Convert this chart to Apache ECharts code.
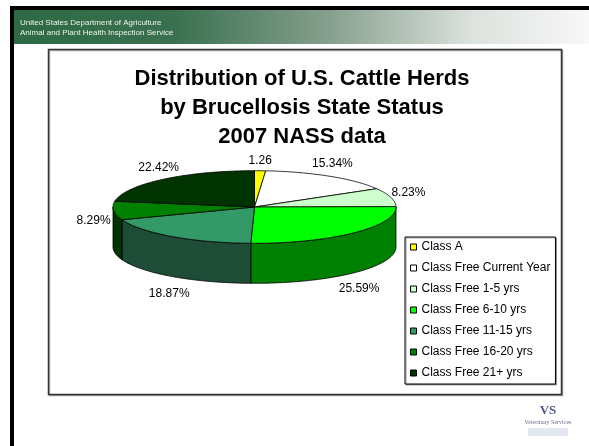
<!DOCTYPE html>
<html><head><meta charset="utf-8">
<script src="https://cdn.jsdelivr.net/npm/echarts@6/dist/echarts.min.js"></script>
<style>html,body{margin:0;padding:0;background:#fff}#c{width:589px;height:446px}</style>
</head><body><div id="c"></div>
<script>
// ---- data ----
const categories = ['Class A','Class Free Current Year','Class Free 1-5 yrs','Class Free 6-10 yrs','Class Free 11-15 yrs','Class Free 16-20 yrs','Class Free 21+ yrs'];
const values = [1.26, 15.34, 8.23, 25.59, 18.87, 8.29, 22.42];
const valueLabels = ['1.26','15.34%','8.23%','25.59%','18.87%','8.29%','22.42%'];
const titleLines = ['Distribution of U.S. Cattle Herds','by Brucellosis State Status','2007 NASS data'];
const headerLines = ['United States Department of Agriculture','Animal and Plant Health Inspection Service'];

// ---- styles ----
const topColors = ['#FFFF00','#FFFFFF','#CCFFCC','#00FF00','#339966','#008000','#003300'];
const sideColors = ['#999900','#999999','#88BB88','#008000','#1E4D37','#003300','#001A00'];
const FONT = '"Liberation Sans", Arial, sans-serif';
const PIE = {cx: 254.5, cy: 207, rx: 141.5, ry: 36.3, depth: 40};

const total = values.reduce((a, b) => a + b, 0);
function startAngle(i) { let s = 0; for (let k = 0; k < i; k++) s += values[k]; return s / total * 360; }
function pt(deg, dy) { const r = deg * Math.PI / 180; return [PIE.cx + PIE.rx * Math.sin(r), PIE.cy - PIE.ry * Math.cos(r) + (dy || 0)]; }
function arc(a, b, dy) { const pts = []; const n = Math.max(2, Math.ceil(Math.abs(b - a))); for (let j = 0; j <= n; j++) pts.push(pt(a + (b - a) * j / n, dy)); return pts; }

function renderSide(params, api) {
  const i = api.value(1);
  const a = startAngle(i), b = a + api.value(0) / total * 360;
  const lo = Math.max(a, 90), hi = Math.min(b, 270);
  if (hi <= lo) return {type: 'group', children: []};
  const pts = arc(lo, hi, 0).concat(arc(hi, lo, PIE.depth));
  return {type: 'polygon', shape: {points: pts}, style: {fill: sideColors[i], stroke: '#000', lineWidth: 0.8}};
}
function renderTop(params, api) {
  const i = api.value(1);
  const a = startAngle(i), b = a + api.value(0) / total * 360;
  const pts = [[PIE.cx, PIE.cy]].concat(arc(a, b, 0));
  const mid = (a + b) / 2, r = mid * Math.PI / 180, s = Math.sin(r), c = Math.cos(r);
  const lx = PIE.cx + (145 + 17 * Math.pow(Math.abs(s), 4)) * s;
  const ly = PIE.cy - (PIE.ry + 16 - 6 * Math.pow(c, 8)) * c + (c < 0 ? (PIE.depth + 5) * Math.min(1, -c * 2) : 0);
  return {type: 'group', children: [
    {type: 'polygon', shape: {points: pts}, style: {fill: api.visual('color'), stroke: '#000', lineWidth: 0.8}},
    {type: 'text', x: lx, y: ly, style: {text: valueLabels[i], font: '12px ' + FONT, fill: '#000', align: 'center', verticalAlign: 'middle'}}
  ]};
}

const series = [{
  type: 'custom', name: 'sides', coordinateSystem: 'none', silent: true, z: 1,
  data: values.map((v, i) => [v, i]), renderItem: renderSide
}];
categories.forEach((name, i) => {
  series.push({
    type: 'custom', name: name, coordinateSystem: 'none', silent: true, z: 2,
    itemStyle: {color: topColors[i], borderColor: '#000', borderWidth: 1},
    data: [[values[i], i]], renderItem: renderTop
  });
});

const chart = echarts.init(document.getElementById('c'), null, {renderer: 'canvas'});
chart.setOption({
  animation: false,
  backgroundColor: '#fff',
  title: {
    text: titleLines.join('\n'), left: 302, top: 64, textAlign: 'center', padding: 0,
    textStyle: {fontFamily: FONT, fontWeight: 'bold', fontSize: 22, lineHeight: 29, color: '#000'}
  },
  legend: {
    data: categories, orient: 'vertical', left: 405, top: 237,
    padding: [3, 5, 4, 5], itemGap: 7, itemWidth: 6, itemHeight: 6, icon: 'rect',
    backgroundColor: '#fff', borderColor: '#000', borderWidth: 1,
    shadowColor: 'rgba(0,0,0,0.35)', shadowOffsetX: 1, shadowOffsetY: 1, shadowBlur: 0,
    selectedMode: false,
    itemStyle: {borderColor: '#000', borderWidth: 1},
    textStyle: {fontFamily: FONT, fontSize: 12, lineHeight: 14, color: '#000'}
  },
  graphic: [
    {type: 'rect', z: -10, shape: {x: 10, y: 6, width: 579, height: 4}, style: {fill: '#000'}},
    {type: 'rect', z: -10, shape: {x: 10, y: 6, width: 4, height: 440}, style: {fill: '#000'}},
    {type: 'rect', z: -10, shape: {x: 14, y: 10, width: 575, height: 34}, style: {fill: new echarts.graphic.LinearGradient(0, 0, 1, 0, [
      {offset: 0, color: '#2d6a44'}, {offset: 0.28, color: '#3a7150'}, {offset: 0.55, color: '#86a08e'}, {offset: 0.8, color: '#dde3de'}, {offset: 1, color: '#f8f8f8'}])}},
    {type: 'text', z: -9, x: 20, y: 23, style: {text: headerLines[0], font: '8px ' + FONT, fill: '#eef3ee', verticalAlign: 'middle'}},
    {type: 'text', z: -9, x: 20, y: 32.5, style: {text: headerLines[1], font: '8px ' + FONT, fill: '#eef3ee', verticalAlign: 'middle'}},
    {type: 'rect', z: -8, shape: {x: 48.5, y: 49.5, width: 513, height: 345}, style: {fill: '#fff', stroke: '#333', lineWidth: 1.5, shadowColor: 'rgba(0,0,0,0.3)', shadowOffsetX: 1, shadowOffsetY: 1}},
    {type: 'text', z: -7, x: 548, y: 411, style: {text: 'VS', font: 'bold 13px "Liberation Serif", serif', fill: '#4a5a80', align: 'center', verticalAlign: 'middle'}},
    {type: 'text', z: -7, x: 548, y: 422, style: {text: 'Veterinary Services', font: '6px "Liberation Serif", serif', fill: '#6a7090', align: 'center', verticalAlign: 'middle'}},
    {type: 'rect', z: -7, shape: {x: 528, y: 428, width: 40, height: 8}, style: {fill: '#e3e7ef'}}
  ],
  series: series
});
</script>
</body></html>
